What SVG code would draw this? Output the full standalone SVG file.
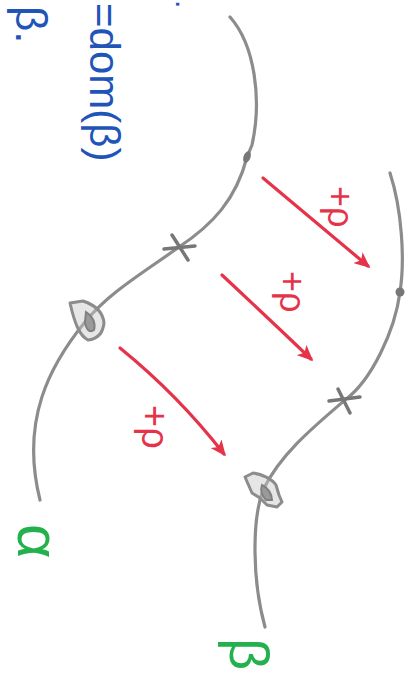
<svg xmlns="http://www.w3.org/2000/svg" width="417" height="687" viewBox="0 0 417 687">
<style>
.curve{fill:none;stroke:#8c8c8c;stroke-width:3.2;stroke-linecap:round;stroke-linejoin:round}
.knot{fill:#c8c8c8;fill-opacity:0.45;stroke:#8c8c8c;stroke-width:3;stroke-linejoin:round}
.knotin{fill:#9a9a9a;stroke:#808080;stroke-width:2}
.mark{stroke:#777;stroke-width:3.5;stroke-linecap:round}
.arrow{fill:none;stroke:#e5334a;stroke-width:3.2;stroke-linecap:round}
.red{font-family:"Liberation Sans",sans-serif;fill:#e5334a}
.blue{font-family:"Liberation Sans",sans-serif;fill:#1f55b8}
.green{font-family:"Liberation Sans",sans-serif;fill:#22b14c}
</style>
<defs>
<marker id="ah" markerWidth="16" markerHeight="14" refX="13" refY="7" orient="auto" markerUnits="userSpaceOnUse">
<path d="M0,0 L16,7 L0,14 L4,7 Z" fill="#e5334a"/>
</marker>
</defs>
<rect width="417" height="687" fill="#ffffff"/>
<g id="notes">
<text class="blue" font-size="42" transform="translate(90,3) rotate(90)">=dom(β)</text>
<text class="blue" font-size="44" transform="translate(16,6) rotate(90)">β.</text>
<text class="blue" font-size="30" transform="translate(176,0) rotate(90)">.</text>
</g>
<g id="connectors">
<path class="arrow" d="M263,178 L368,266" marker-end="url(#ah)"/>
<path class="arrow" d="M222,275 Q268,318 311,359" marker-end="url(#ah)"/>
<path class="arrow" d="M120,348 Q178,395 224,454" marker-end="url(#ah)"/>
</g>
<g id="curve-alpha">
<path class="curve" d="M230,17 C255,45 262,100 252,145 L247,157 C236,200 212,225 179,247 C140,275 110,292 85,322 C50,365 20,420 40,500"/>
<ellipse cx="247" cy="157" rx="3.5" ry="6" fill="#777" transform="rotate(20 247 157)"/>
<line class="mark" x1="164" y1="249" x2="195" y2="246"/>
<line class="mark" x1="172" y1="235" x2="188" y2="260"/>
<path class="knot" d="M70,303 L83,301 C95,305 103,312 104,323 C103,332 98,339 88,340 C80,336 75,325 70,303 Z"/>
<path class="knotin" d="M86,312 C92,316 96,322 94,330 C90,333 86,330 85,322 Z"/>
</g>
<g id="curve-beta">
<path class="curve" d="M390,173 C402,210 405,260 400,292 C395,330 372,380 345,400 C312,428 280,455 263,490 C252,520 252,580 265,627"/>
<circle cx="400" cy="292" r="4.5" fill="#777"/>
<line class="mark" x1="329" y1="401" x2="360" y2="397"/>
<line class="mark" x1="338" y1="389" x2="350" y2="413"/>
<path class="knot" d="M245,477 L253,473 C262,474 272,479 276,485 L279,495 L282,502 L277,507 L267,505 L260,498 L252,493 Z"/>
<path class="knotin" d="M262,485 C268,488 272,494 272,500 L266,500 C262,496 260,490 262,485 Z"/>
</g>
<g id="label-rho-1"><text class="red" font-size="36" transform="translate(328,186) rotate(90)">+ρ</text></g>
<g id="label-rho-2"><text class="red" font-size="36" transform="translate(280,271) rotate(90)">+ρ</text></g>
<g id="label-rho-3"><text class="red" font-size="38" transform="translate(142,405) rotate(90)">+ρ</text></g>
<g id="label-alpha"><text class="green" font-size="60" transform="translate(18,524) rotate(90)">α</text></g>
<g id="label-beta"><text class="green" font-size="56" transform="translate(230,638) rotate(90)">β</text></g>
</svg>
